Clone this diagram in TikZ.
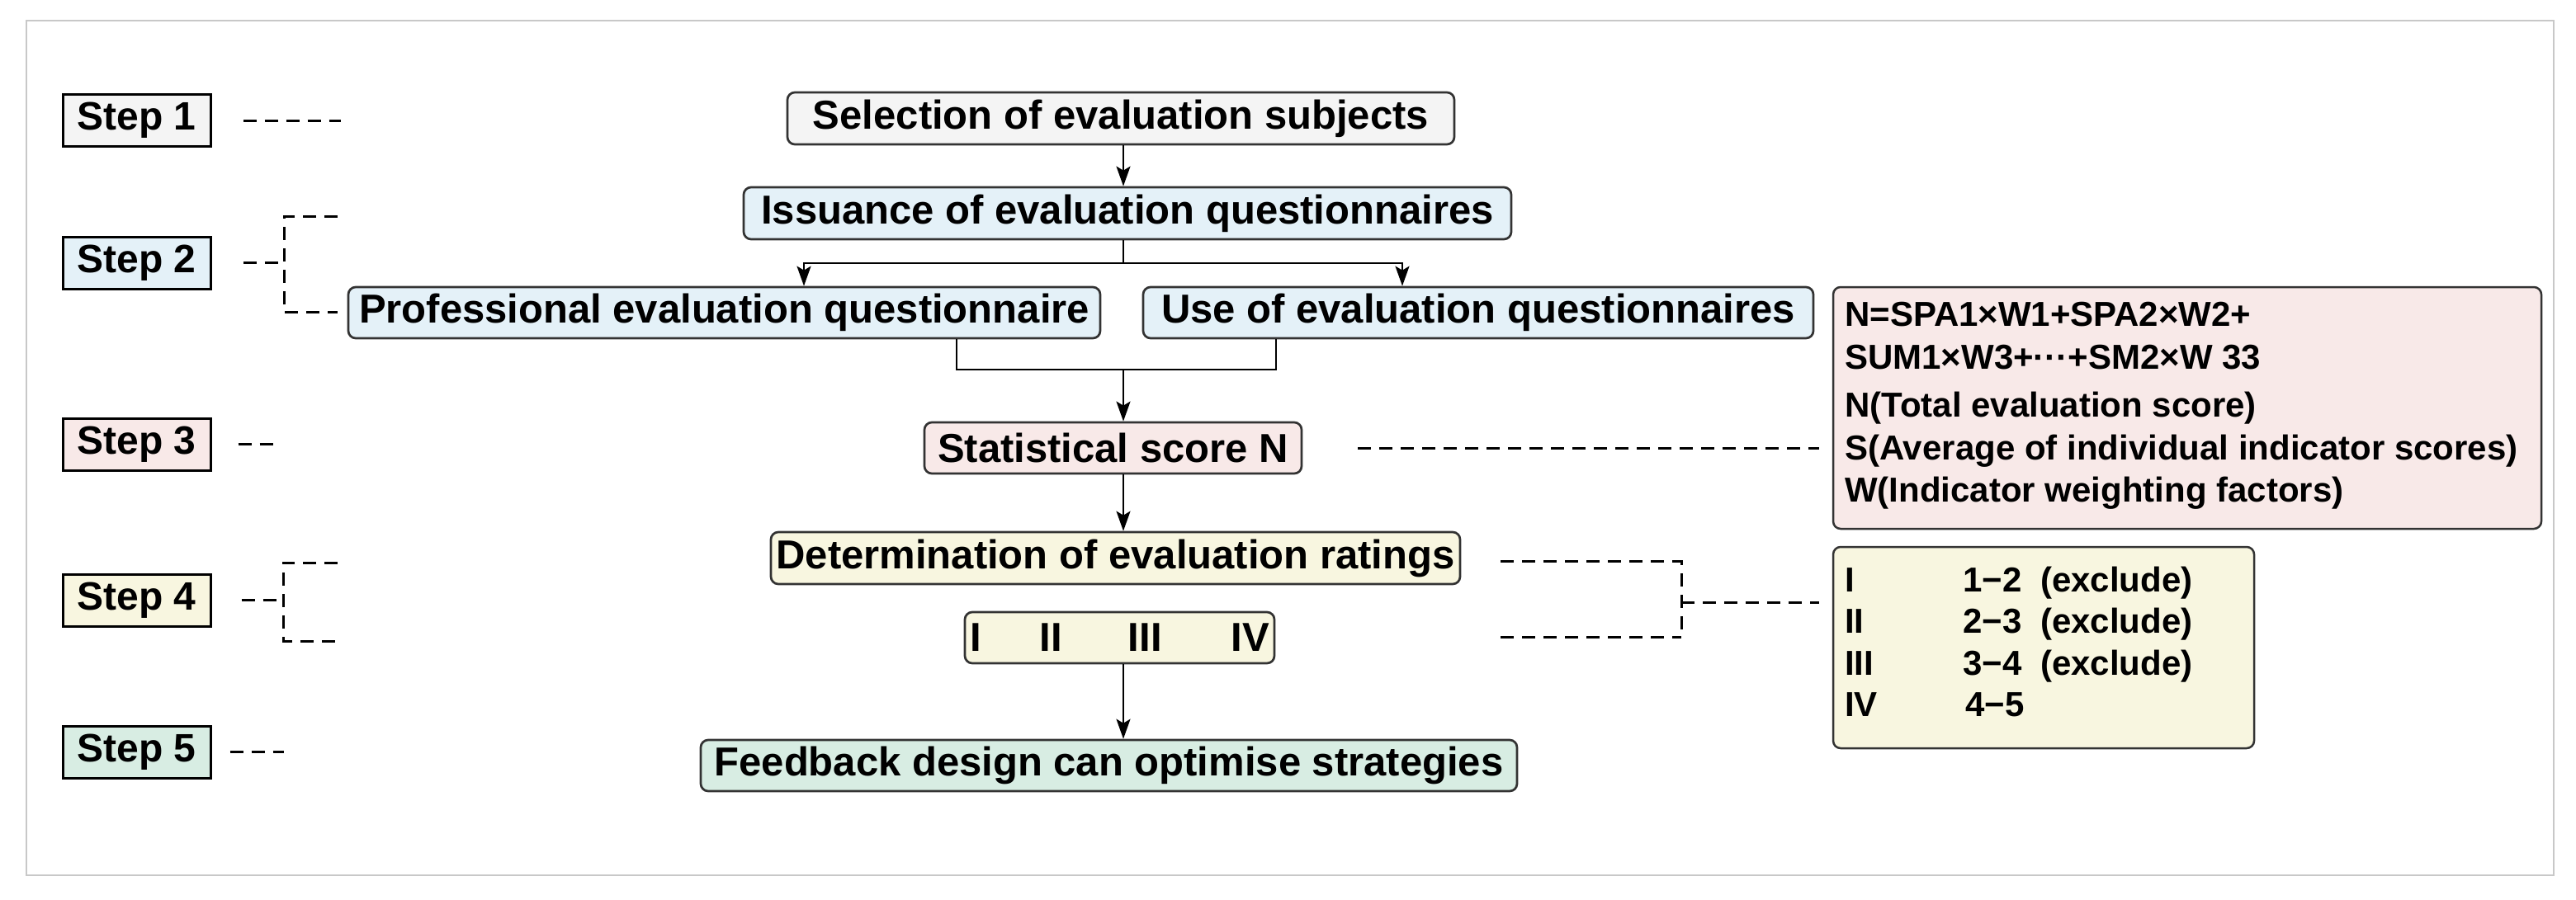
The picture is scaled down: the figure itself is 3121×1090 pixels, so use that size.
\documentclass[tikz,border=0pt]{standalone}
\usepackage{fontspec}
\setmainfont{Liberation Sans}
\usetikzlibrary{arrows.meta}
\definecolor{cgray}{HTML}{F4F4F4}
\definecolor{cblue}{HTML}{E4F1F8}
\definecolor{cpink}{HTML}{F8E9E8}
\definecolor{cyell}{HTML}{F8F6E0}
\definecolor{cgreen}{HTML}{D8EDE3}
\definecolor{framecol}{HTML}{C8C8C8}
\definecolor{bordcol}{HTML}{333333}
\begin{document}
\begin{tikzpicture}[x=1pt,y=-1pt,
  mainbox/.style={draw=bordcol, line width=2.7pt, rounded corners=9pt, inner sep=0pt,
    minimum height=62pt, font=\fontsize{49}{56}\selectfont\bfseries},
  stepbox/.style={draw=black, line width=3pt, inner sep=0pt, minimum width=179pt,
    minimum height=63pt, font=\fontsize{48}{56}\selectfont\bfseries},
  infobox/.style={draw=bordcol, line width=2.5pt, rounded corners=9pt, inner sep=0pt},
  infotext/.style={anchor=base west, inner sep=0pt, font=\fontsize{42}{50}\selectfont\bfseries},
  conn/.style={line width=2.3pt, -{Stealth[length=24pt,width=17pt,inset=5pt]}},
  plain/.style={line width=2.5pt},
  dline/.style={line width=3pt, dash pattern=on 16pt off 10pt}
]
\useasboundingbox (0,0) rectangle (3121,1090);
\draw[framecol, line width=2pt] (32,25) rectangle (3094,1061);

% step labels
\node[stepbox, fill=cgray]  (s1) at (165.5,146)   {Step 1};
\node[stepbox, fill=cblue]  (s2) at (165.5,318.5) {Step 2};
\node[stepbox, fill=cpink]  (s3) at (165.5,538.5) {Step 3};
\node[stepbox, fill=cyell]  (s4) at (165.5,727.5) {Step 4};
\node[stepbox, fill=cgreen] (s5) at (165.5,911.5) {Step 5};

% main flow
\node[mainbox, fill=cgray, minimum width=808pt, minimum height=63pt] (sel) at (1358,143.5) {Selection of evaluation subjects};
\node[mainbox, fill=cblue, minimum width=930pt, minimum height=63pt] (iss) at (1366,258.5) {Issuance of evaluation questionnaires};
\node[mainbox, fill=cblue, minimum width=911pt] (prof) at (877.5,379) {Professional evaluation questionnaire};
\node[mainbox, fill=cblue, minimum width=812pt] (use) at (1791,379) {Use of evaluation questionnaires};
\node[mainbox, fill=cpink, minimum width=457pt] (stat) at (1348.5,543) {Statistical score N};
\node[mainbox, fill=cyell, minimum width=835pt, minimum height=63pt] (det) at (1351.5,676.5) {Determination of evaluation ratings};
\node[mainbox, fill=cyell, minimum width=375pt] (rom) at (1356.5,773) {I\hspace{71pt}II\hspace{80pt}III\hspace{84pt}IV};
\node[mainbox, fill=cgreen, minimum width=989pt] (fb) at (1343.5,928) {Feedback design can optimise strategies};

% info boxes
\node[infobox, fill=cpink, minimum width=858pt, minimum height=293pt] (form) at (2650,494.5) {};
\node[infotext] (f1) at (2235,395) {N=SPA1×W1+SPA2×W2+};
\node[infotext] (f2) at (2235,447) {SUM1×W3+···+SM2×W 33};
\node[infotext] (f3) at (2235,505) {N(Total evaluation score)};
\node[infotext] (f4) at (2235,557) {S(Average of individual indicator scores)};
\node[infotext] (f5) at (2235,608) {W(Indicator weighting factors)};

\node[infobox, fill=cyell, minimum width=510pt, minimum height=244pt] (rate) at (2476,785) {};
\node[infotext] (r1a) at (2235,717) {I};
\node[infotext] (r1b) at (2378,717) {1−2};
\node[infotext] (r1c) at (2472,717) {(exclude)};
\node[infotext] (r2a) at (2235,767) {II};
\node[infotext] (r2b) at (2378,767) {2−3};
\node[infotext] (r2c) at (2472,767) {(exclude)};
\node[infotext] (r3a) at (2235,818) {III};
\node[infotext] (r3b) at (2378,818) {3−4};
\node[infotext] (r3c) at (2472,818) {(exclude)};
\node[infotext] (r4a) at (2235,868) {IV};
\node[infotext] (r4b) at (2381,868) {4−5};

% connectors
\coordinate (xc) at (1361,0);
\coordinate (spl) at (1361,319);
\coordinate (mrg) at (1361,448);
\draw[conn] (sel.south -| xc) -- (iss.north -| xc);
\draw[plain] (iss.south -| xc) -- (spl);
\draw[conn] (spl) -| ([xshift=96.5pt]prof.north);
\draw[conn] (spl) -| ([xshift=-92pt]use.north);
\draw[plain] ([xshift=281.5pt]prof.south) |- (mrg);
\draw[plain] ([xshift=-245pt]use.south) |- (mrg);
\draw[conn] (mrg) -- (stat.north -| mrg);
\draw[conn] (stat.south -| xc) -- (det.north -| xc);
\draw[conn] (rom.south -| xc) -- (fb.north -| xc);

% step dashed lines
\draw[dline] ([xshift=38pt]s1.east) -- (413,146);
\draw[dline] ([xshift=38pt]s2.east) -- (344,318.5);
\draw[dline] (409,262) -- (344,262) -- (344,378) -- (409,378);
\draw[dline] ([xshift=32pt]s3.east) -- (339,538.5);
\draw[dline] ([xshift=36pt]s4.east) -- (343,727.5);
\draw[dline] (409,682) -- (343,682) -- (343,777) -- (409,777);
\draw[dline] ([xshift=22pt]s5.east) -- (344,911.5);

% right dashed lines
\draw[dline] ([xshift=67pt]stat.east) -- ([xshift=-16pt]form.west |- stat.east);
\draw[dline] (1818,680) -- (2037,680) -- (2037,772);
\draw[dline] (1818,772) -- (2037,772);
\draw[dline] (2037,730) -- ([xshift=-16pt]rate.west |- 0,730);
\end{tikzpicture}
\end{document}
